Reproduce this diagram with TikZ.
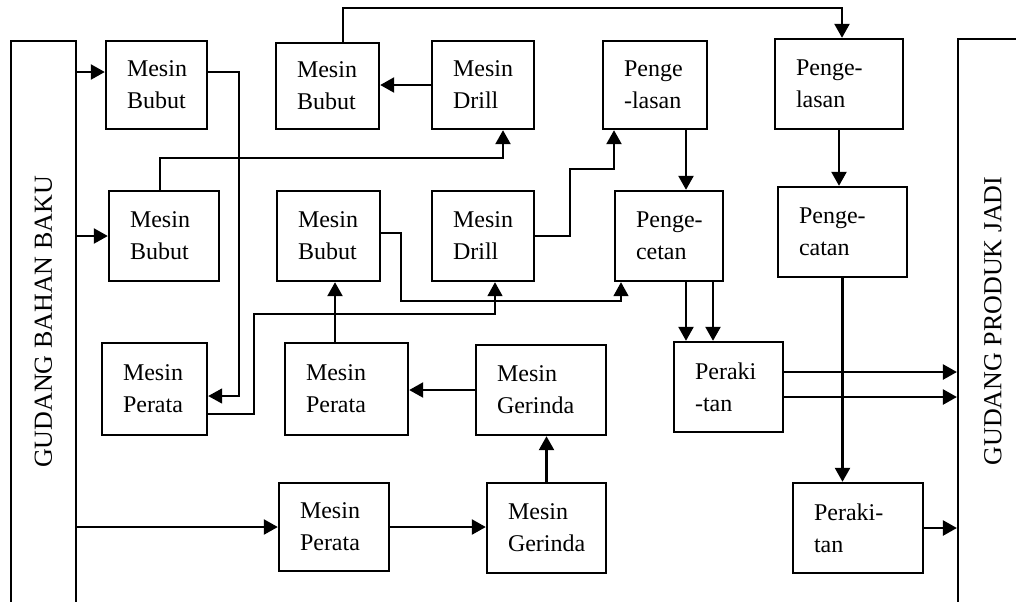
\documentclass[tikz,border=0pt]{standalone}
\usepackage{fontspec}
\setmainfont{Liberation Serif}
\usetikzlibrary{arrows.meta, positioning, calc}

\begin{document}
\begin{tikzpicture}[x=0.5pt, y=-0.5pt,
  unit/.style 2 args={draw, line width=1.2pt, inner xsep=10.5pt, inner ysep=0pt,
    align=left, text width=#1, minimum height=#2,
    font={\fontsize{12}{16}\selectfont\hyphenpenalty=10000\exhyphenpenalty=10000}},
  store/.style={draw, line width=1.1pt, inner sep=0pt, font=\fontsize{13}{15}\selectfont},
  flow/.style={line width=1.2pt, -{Triangle[length=7pt, width=7.5pt]}},
  thinflow/.style={line width=0.85pt, -{Triangle[length=7pt, width=7.5pt]}}]

\useasboundingbox (0,0) rectangle (1016,601);
\clip (0,0) rectangle (1016,601);

% gudang
\node[store, minimum width=32.5pt, minimum height=281pt] (gudangA) at (43.5,322) {\rotatebox{90}{GUDANG BAHAN BAKU}};
\node[store, minimum width=35pt, minimum height=282pt] (gudangB) at (993,321) {\rotatebox{90}{GUDANG PRODUK JADI}};

% baris atas
\node[unit={29.5pt}{44pt}] (bubutA) at (156.5,85) {Mesin\\Bubut};
\node[unit={30.5pt}{43pt}] (bubutB) at (327.5,86) {Mesin\\Bubut};
\node[unit={30pt}{44pt}] (drillA) at (483,85) {Mesin\\Drill};
\node[unit={31pt}{44pt}] (lasA) at (655,85) {Penge\\-lasan};
\node[unit={43pt}{45pt}] (lasB) at (839,84) {Penge-\\lasan};

% baris tengah
\node[unit={34pt}{45pt}] (bubutC) at (164,236) {Mesin\\Bubut};
\node[unit={30.5pt}{45pt}] (bubutD) at (328.5,236) {Mesin\\Bubut};
\node[unit={30pt}{45pt}] (drillB) at (483,236) {Mesin\\Drill};
\node[unit={33pt}{45pt}] (cetA) at (669,236) {Penge-\\cetan};
\node[unit={43.5pt}{45pt}] (catB) at (842.5,232) {Penge-\\catan};

% baris bawah
\node[unit={31.5pt}{46pt}] (perataA) at (154.5,389) {Mesin\\Perata};
\node[unit={40.5pt}{46pt}] (perataB) at (346.5,389) {Mesin\\Perata};
\node[unit={44pt}{45pt}] (gerindaA) at (541,390) {Mesin\\Gerinda};
\node[unit={33.5pt}{45pt}] (rakitA) at (728.5,387) {Peraki\\-tan};
\node[unit={34pt}{44pt}] (perataC) at (334,527) {Mesin\\Perata};
\node[unit={38.5pt}{45pt}] (gerindaB) at (546.5,528) {Mesin\\Gerinda};
\node[unit={44pt}{45pt}] (rakitB) at (858,528) {Peraki-\\tan};

% dari gudang bahan baku
\coordinate (inA) at ([yshift=6.5pt]bubutA.west);
\draw[flow] (inA -| gudangA.east) -- (inA);
\draw[flow] (bubutC.west -| gudangA.east) -- (bubutC.west);
\draw[flow] (perataC.west -| gudangA.east) -- (perataC.west);

% jalur proses
\draw[thinflow] ([yshift=6.5pt]bubutA.east) -- ++(31,0) |- ([yshift=-3.5pt]perataA.east);
\draw[flow] ([xshift=-2pt]bubutC.north) -- ++(0,-32) -| ([xshift=10pt]drillA.south);
\draw[flow] ([xshift=7.75pt]bubutB.north) -- ++(0,-34) -| ([xshift=1.5pt]lasB.north);
\draw[flow] (drillA.west) -- (drillA.west -| bubutB.east);
\coordinate (lasOut) at ([xshift=15.5pt]lasA.south);
\draw[flow] (lasOut) -- (lasOut |- cetA.north);
\draw[flow] (lasB.south) -- (lasB.south |- catB.north);
\draw[flow] (drillB.east) -- ++(35,0) -- ++(0,-67) -| ([xshift=-20.5pt]lasA.south);
\draw[thinflow] ([yshift=1.5pt]bubutD.east) -- ++(20,0) -- ++(0,68) -| ([xshift=-24pt]cetA.south);
\draw[thinflow] ([yshift=-12.5pt]perataA.east) -- ++(46,0) -- ++(0,-100) -| ([xshift=6pt]drillB.south);
\coordinate (perOut) at ([xshift=-5.75pt]perataB.north);
\draw[flow] (perOut) -- (perOut |- bubutD.south);
\draw[flow] (gerindaA.west) -- (gerindaA.west -| perataB.east);
\draw[flow] (gerindaB.north) -- (gerindaB.north |- gerindaA.south);
\draw[flow] (perataC.east) -- (perataC.east -| gerindaB.west);

% ke perakitan
\coordinate (cetOutA) at ([xshift=8.5pt]cetA.south);
\coordinate (cetOutB) at ([xshift=22pt]cetA.south);
\draw[flow] (cetOutA) -- (cetOutA |- rakitA.north);
\draw[flow] (cetOutB) -- (cetOutB |- rakitA.north);
\draw[flow] (catB.south) -- (catB.south |- rakitB.north);

% ke gudang produk jadi
\coordinate (rakOutA) at ([yshift=7.5pt]rakitA.east);
\coordinate (rakOutB) at ([yshift=-5pt]rakitA.east);
\draw[flow] (rakOutA) -- (rakOutA -| gudangB.west);
\draw[flow] (rakOutB) -- (rakOutB -| gudangB.west);
\draw[flow] (rakitB.east) -- (rakitB.east -| gudangB.west);
\end{tikzpicture}
\end{document}
